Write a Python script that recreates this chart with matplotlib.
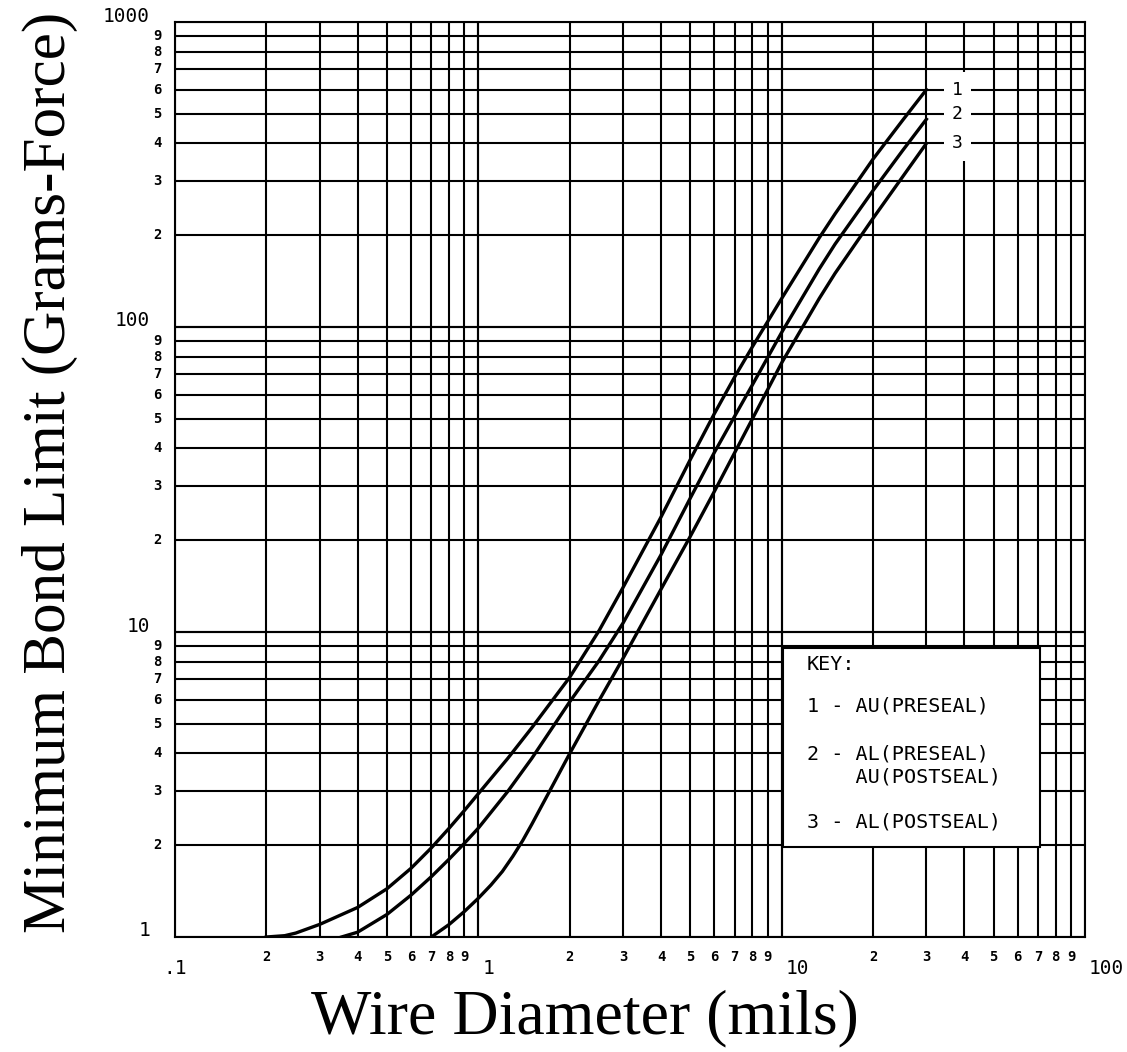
import matplotlib
matplotlib.use('Agg')
import matplotlib.pyplot as plt
import matplotlib.patches as patches

# ── data ──────────────────────────────────────────────────────────────────────
AU_PRESEAL_X = [0.2, 0.23, 0.25, 0.3, 0.4, 0.5, 0.6, 0.7, 0.8, 0.9, 1.0, 1.25, 1.5,
                2, 2.5, 3, 4, 5, 6, 7, 8, 10, 13.3, 15, 20, 25, 30]
AU_PRESEAL_Y = [1.0, 1.01, 1.03, 1.1, 1.25, 1.44, 1.68, 1.96, 2.27, 2.6, 2.95, 3.85,
                4.85, 7.1, 10.1, 14, 23.8, 36.8, 52, 68.6, 86, 124, 196, 235, 355,
                475, 600]

AL_PRE_AU_POST_X = [0.354, 0.4, 0.5, 0.6, 0.7, 0.8, 0.9, 1.0, 1.25, 1.5, 2, 2.5, 3,
                    4, 5, 6, 7, 8, 10, 13.3, 15, 20, 25, 30]
AL_PRE_AU_POST_Y = [1.0, 1.037, 1.186, 1.372, 1.577, 1.798, 2.03, 2.275, 3.0, 3.85,
                    5.9, 8.05, 10.7, 17.9, 27.5, 38.8, 51, 64.5, 96, 155, 187, 280,
                    378, 480]

AL_POSTSEAL_X = [0.7, 0.8, 0.9, 1.0, 1.1, 1.2, 1.3, 1.4, 1.5, 1.7, 2, 2.5, 3, 4, 5,
                 6, 8, 10, 13.3, 15, 20, 25, 30]
AL_POSTSEAL_Y = [1.0, 1.098, 1.213, 1.34, 1.48, 1.64, 1.84, 2.07, 2.34, 2.95, 3.99,
                 5.96, 8.2, 13.8, 20.6, 28.9, 49.9, 76.3, 124, 150, 227, 310, 400]

CURVE_TAGS   = ['1', '2', '3']
END_VALUES   = [600, 500, 400]
KEY_LINES    = ['KEY:', '1 - AU(PRESEAL)', '2 - AL(PRESEAL)', '    AU(POSTSEAL)',
                '3 - AL(POSTSEAL)']
MINOR_DIGITS = ['2', '3', '4', '5', '6', '7', '8', '9']
X_MAJORS     = [(0.1, '.1'), (1, '1'), (10, '10'), (100, '100')]
Y_MAJORS     = [(1, '1'), (10, '10'), (100, '100'), (1000, '1000')]

# ── figure ────────────────────────────────────────────────────────────────────
fig = plt.figure(figsize=(11.27, 10.52), dpi=100)
ax = fig.add_axes([175 / 1127, 1 - 937 / 1052, 910 / 1127, 915 / 1052])
ax.set_xscale('log')
ax.set_yscale('log')
ax.set_xlim(0.1, 100)
ax.set_ylim(1, 1000)

LW = 1.5
MONO = 'DejaVu Sans Mono'
decades_x = [0.1, 1, 10]
decades_y = [1, 10, 100]

# full log grid (every 1..9 of each decade)
for d in decades_x:
    for k in range(1, 11):
        ax.axvline(d * k, color='black', lw=LW, zorder=1)
for d in decades_y:
    for k in range(1, 11):
        ax.axhline(d * k, color='black', lw=LW, zorder=1)
for s in ax.spines.values():
    s.set_linewidth(LW)
ax.set_xticks([])
ax.set_yticks([])
ax.minorticks_off()

# curves
for xs, ys in [(AU_PRESEAL_X, AU_PRESEAL_Y),
               (AL_PRE_AU_POST_X, AL_PRE_AU_POST_Y),
               (AL_POSTSEAL_X, AL_POSTSEAL_Y)]:
    ax.plot(xs, ys, color='black', lw=2.4, solid_joinstyle='round', zorder=3)

for tag, val in zip(CURVE_TAGS, END_VALUES):
    ax.text(38, val, tag, ha='center', va='center', fontsize=13, family=MONO,
            zorder=4, bbox=dict(facecolor='white', edgecolor='none', pad=6))

# key box
ax.add_patch(patches.Rectangle((0.668, 0.098), 0.2825, 0.218,
                               transform=ax.transAxes, facecolor='white',
                               edgecolor='black', lw=LW, zorder=5))
key_y = [665, 706, 754, 777, 822]
for line, py in zip(KEY_LINES, key_y):
    fig.text(807 / 1127, 1 - py / 1052, line, ha='left', va='center',
             fontsize=14.5, family=MONO, zorder=6)

# tick labels drawn at the grid positions
xt = ax.get_xaxis_transform()
yt = ax.get_yaxis_transform()
for d in decades_x:
    for k, lab in zip(range(2, 10), MINOR_DIGITS):
        ax.annotate(lab, xy=(d * k, 0), xycoords=xt, xytext=(0, -20),
                    textcoords='offset pixels', ha='center', va='center',
                    fontsize=10, fontweight='bold', family=MONO,
                    annotation_clip=False)
for d in decades_y:
    for k, lab in zip(range(2, 10), MINOR_DIGITS):
        ax.annotate(lab, xy=(0, d * k), xycoords=yt, xytext=(-18, 0),
                    textcoords='offset pixels', ha='center', va='center',
                    fontsize=10, fontweight='bold', family=MONO,
                    annotation_clip=False)
for v, lab in X_MAJORS:
    off = -12 if v == 0.1 else 4
    ax.annotate(lab, xy=(v, 0), xycoords=xt, xytext=(off, -31),
                textcoords='offset pixels', ha='left', va='center',
                fontsize=14, family=MONO, annotation_clip=False)
for v, lab in Y_MAJORS:
    ax.annotate(lab, xy=(0, v), xycoords=yt, xytext=(-25, 6),
                textcoords='offset pixels', ha='right', va='center',
                fontsize=14, family=MONO, annotation_clip=False)

# axis titles
fig.text(585 / 1127, 1 - 1018 / 1052, 'Wire Diameter (mils)', ha='center',
         va='center', fontsize=46, family='Liberation Serif')
fig.text(50 / 1127, 1 - 472 / 1052, 'Minimum Bond Limit (Grams-Force)',
         ha='center', va='center', rotation=90, fontsize=44,
         family='Liberation Serif')

fig.savefig('out.png', dpi=100)
